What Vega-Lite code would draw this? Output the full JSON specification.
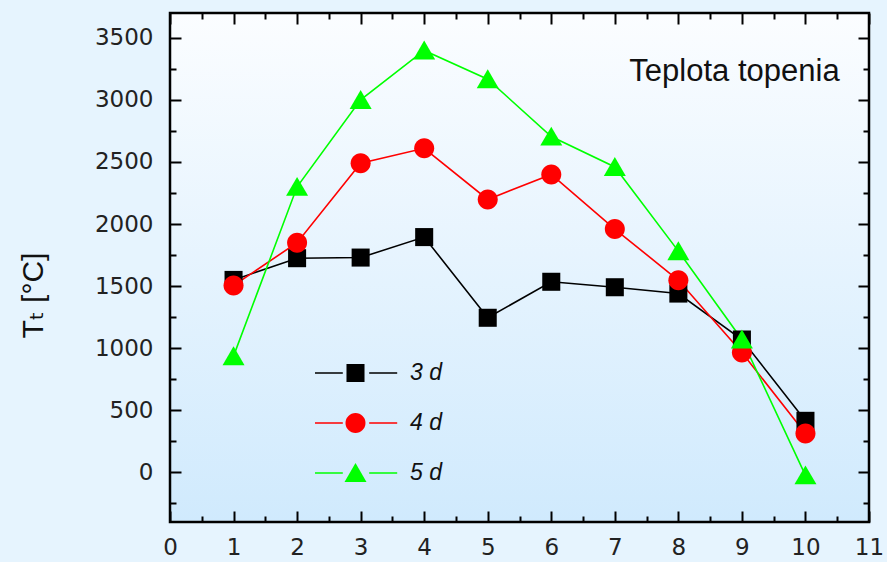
{
  "$schema": "https://vega.github.io/schema/vega-lite/v6.json",
  "width": 699,
  "height": 509,
  "autosize": "none",
  "padding": {"left": 170, "top": 13, "right": 18, "bottom": 40},
  "background": "#e6f4fe",
  "config": {
    "view": {
      "stroke": "#000000", "strokeWidth": 2.5,
      "fill": {"gradient": "linear", "x1": 0, "y1": 0, "x2": 0, "y2": 1,
        "stops": [{"offset": 0, "color": "#fbfdff"}, {"offset": 1, "color": "#d0eafd"}]}
    },
    "axis": {
      "domain": false, "tickColor": "#000000", "tickWidth": 2,
      "labelFont": "DejaVu Sans", "labelFontSize": 23, "labelColor": "#222222", "grid": false,
      "labelOverlap": false, "labelFlush": false
    },
    "legend": {
      "title": null, "orient": "none", "legendY": 335,
      "padding": 0, "rowPadding": 0, "clipHeight": 50, "labelOffset": 13,
      "labelFont": "Liberation Sans", "labelFontSize": 23, "labelFontStyle": "italic", "labelColor": "#111111"
    }
  },
  "title": {
    "text": "Teplota topenia", "anchor": "end", "dx": -44, "offset": -100, "baseline": "alphabetic",
    "font": "Liberation Sans", "fontSize": 31, "fontWeight": "normal", "color": "#111111"
  },
  "data": {
    "values": [
      {"x": 1, "y": 1550, "s": "3 d"}, {"x": 2, "y": 1725, "s": "3 d"}, {"x": 3, "y": 1730, "s": "3 d"},
      {"x": 4, "y": 1895, "s": "3 d"}, {"x": 5, "y": 1245, "s": "3 d"}, {"x": 6, "y": 1535, "s": "3 d"},
      {"x": 7, "y": 1491, "s": "3 d"}, {"x": 8, "y": 1440, "s": "3 d"}, {"x": 9, "y": 1070, "s": "3 d"},
      {"x": 10, "y": 415, "s": "3 d"},
      {"x": 1, "y": 1505, "s": "4 d"}, {"x": 2, "y": 1850, "s": "4 d"}, {"x": 3, "y": 2490, "s": "4 d"},
      {"x": 4, "y": 2610, "s": "4 d"}, {"x": 5, "y": 2198, "s": "4 d"}, {"x": 6, "y": 2400, "s": "4 d"},
      {"x": 7, "y": 1960, "s": "4 d"}, {"x": 8, "y": 1547, "s": "4 d"}, {"x": 9, "y": 965, "s": "4 d"},
      {"x": 10, "y": 313, "s": "4 d"},
      {"x": 1, "y": 936, "s": "5 d"}, {"x": 2, "y": 2300, "s": "5 d"}, {"x": 3, "y": 3000, "s": "5 d"},
      {"x": 4, "y": 3398, "s": "5 d"}, {"x": 5, "y": 3167, "s": "5 d"}, {"x": 6, "y": 2705, "s": "5 d"},
      {"x": 7, "y": 2460, "s": "5 d"}, {"x": 8, "y": 1782, "s": "5 d"}, {"x": 9, "y": 1070, "s": "5 d"},
      {"x": 10, "y": -24, "s": "5 d"}
    ]
  },
  "resolve": {"axis": {"x": "independent", "y": "independent"}},
  "layer": [
    {
      "mark": {"type": "line", "strokeWidth": 1.6},
      "encoding": {
        "x": {"field": "x", "type": "quantitative", "scale": {"domain": [0, 11], "nice": false},
          "axis": {"orient": "bottom", "title": null, "format": "d",
            "values": [0,1,2,3,4,5,6,7,8,9,10,11],
            "tickSize": 11, "offset": -11, "labelPadding": 14}},
        "y": {"field": "y", "type": "quantitative", "scale": {"domain": [-400, 3700], "nice": false, "zero": false},
          "axis": {"orient": "left", "format": "d",
            "values": [0,500,1000,1500,2000,2500,3000,3500],
            "tickSize": 11, "offset": -11, "labelPadding": 17,
            "title": "Tₜ [°C]", "titleFont": "Liberation Sans, DejaVu Sans", "titleFontSize": 30,
            "titleFontWeight": "normal", "titleColor": "#111111", "titlePadding": 46, "titleY": 282}},
        "color": {"field": "s", "type": "nominal",
          "scale": {"range": ["#000000", "#ff0000", "#00ff00"]},
          "legend": {"legendX": 145, "symbolType": "M-1.03,0H-0.33M0.33,0H1.03", "symbolSize": 6400,
            "symbolStrokeWidth": 1.6}}
      }
    },
    {
      "transform": [{"filter": "datum.s === '3 d'"}],
      "mark": {"type": "point", "filled": true, "opacity": 1, "size": 484, "strokeWidth": 0},
      "encoding": {
        "x": {"field": "x", "type": "quantitative",
          "axis": {"orient": "bottom", "title": null, "labels": false,
            "values": [0.5,1.5,2.5,3.5,4.5,5.5,6.5,7.5,8.5,9.5,10.5], "tickSize": 6, "offset": -6}},
        "y": {"field": "y", "type": "quantitative",
          "axis": {"orient": "left", "title": null, "labels": false,
            "values": [-250,250,750,1250,1750,2250,2750,3250], "tickSize": 6, "offset": -6}},
        "fill": {"field": "s", "type": "nominal",
          "scale": {"domain": ["3 d", "4 d", "5 d"], "range": ["#000000", "#ff0000", "#00ff00"]},
          "legend": {"legendX": 174, "symbolSize": 484, "symbolStrokeWidth": 0, "labelOpacity": 0}},
        "shape": {"field": "s", "type": "nominal",
          "scale": {"domain": ["3 d", "4 d", "5 d"],
            "range": ["M-0.82,-0.82H0.82V0.82H-0.82Z",
              "M-0.91,0A0.91,0.91,0,1,1,0.91,0A0.91,0.91,0,1,1,-0.91,0Z",
              "M0,-0.9L1,0.82L-1,0.82Z"]},
          "legend": {"legendX": 174, "symbolSize": 484, "symbolStrokeWidth": 0, "labelOpacity": 0}}
      }
    },
    {
      "transform": [{"filter": "datum.s === '4 d'"}],
      "mark": {"type": "point", "filled": true, "opacity": 1, "size": 484, "strokeWidth": 0},
      "encoding": {
        "x": {"field": "x", "type": "quantitative",
          "axis": {"orient": "top", "title": null, "labels": false,
            "values": [0,1,2,3,4,5,6,7,8,9,10,11], "tickSize": 11, "offset": -11}},
        "y": {"field": "y", "type": "quantitative",
          "axis": {"orient": "right", "title": null, "labels": false,
            "values": [0,500,1000,1500,2000,2500,3000,3500], "tickSize": 11, "offset": -11}},
        "fill": {"field": "s", "type": "nominal",
          "legend": {"legendX": 174, "symbolSize": 484, "symbolStrokeWidth": 0, "labelOpacity": 0}},
        "shape": {"field": "s", "type": "nominal",
          "legend": {"legendX": 174, "symbolSize": 484, "symbolStrokeWidth": 0, "labelOpacity": 0}}
      }
    },
    {
      "transform": [{"filter": "datum.s === '5 d'"}],
      "mark": {"type": "point", "filled": true, "opacity": 1, "size": 484, "strokeWidth": 0},
      "encoding": {
        "x": {"field": "x", "type": "quantitative",
          "axis": {"orient": "top", "title": null, "labels": false,
            "values": [0.5,1.5,2.5,3.5,4.5,5.5,6.5,7.5,8.5,9.5,10.5], "tickSize": 6, "offset": -6}},
        "y": {"field": "y", "type": "quantitative",
          "axis": {"orient": "right", "title": null, "labels": false,
            "values": [-250,250,750,1250,1750,2250,2750,3250], "tickSize": 6, "offset": -6}},
        "fill": {"field": "s", "type": "nominal",
          "legend": {"legendX": 174, "symbolSize": 484, "symbolStrokeWidth": 0, "labelOpacity": 0}},
        "shape": {"field": "s", "type": "nominal",
          "legend": {"legendX": 174, "symbolSize": 484, "symbolStrokeWidth": 0, "labelOpacity": 0}}
      }
    }
  ]
}
